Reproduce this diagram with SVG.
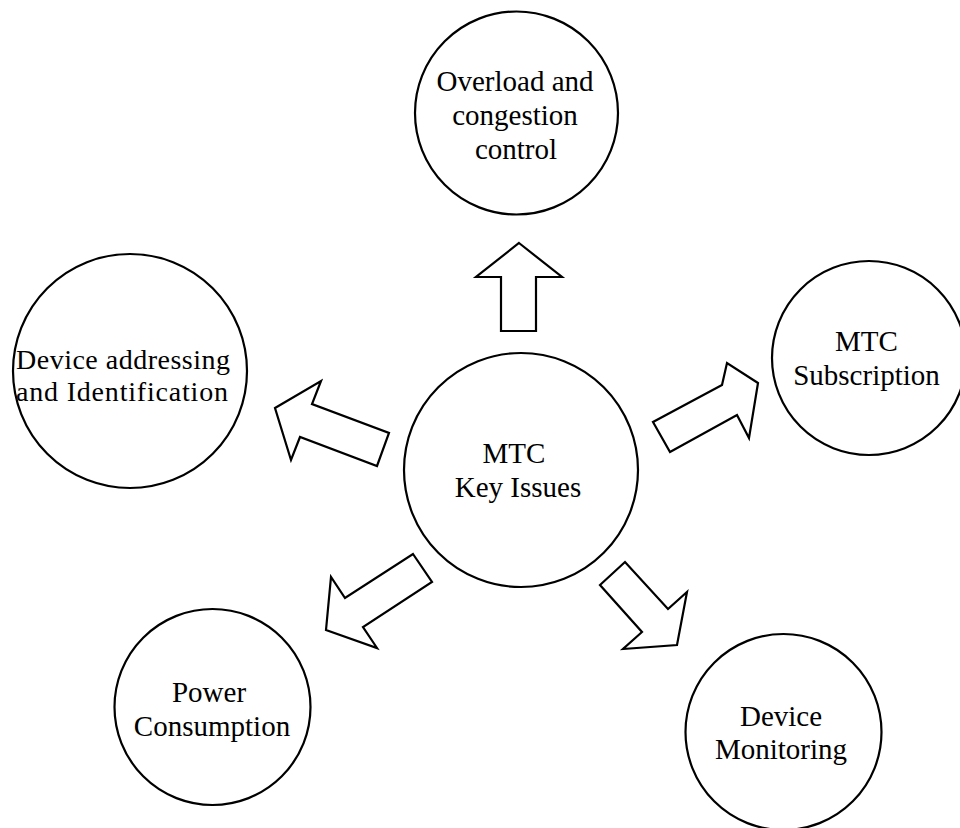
<svg xmlns="http://www.w3.org/2000/svg" width="960" height="828" viewBox="0 0 960 828">
<style>
.node{fill:#fff;stroke:#000;stroke-width:2.2}
.arrow{fill:#fff;stroke:#000;stroke-width:2.2;stroke-linejoin:miter}
text{font-family:"Liberation Serif","Times New Roman",serif;font-size:29px;fill:#000;text-anchor:middle}
.tight{font-size:28px}
</style>
<rect width="960" height="828" fill="#fff"/>
<g id="connectors">
<polygon class="arrow" points="519,243 562,277 536,277 536,331 501,331 501,277 476,277"/>
<polygon class="arrow" points="275,408 321,381 312,404 389,433 377,466 300,437 291,460"/>
<polygon class="arrow" points="758,383 727,363 722,385 653,422 670,452 737,415 749,438"/>
<polygon class="arrow" points="413,554 432,582 363,627 377,648 326,630 331,577 345,598"/>
<polygon class="arrow" points="625,562 600,585 642,632 623,649 677,645 687,592 668,609"/>
</g>
<g id="center">
<circle class="node" cx="521" cy="470" r="117"/>
<text x="514" y="463">MTC</text>
<text x="518" y="497">Key Issues</text>
</g>
<g id="overload">
<circle class="node" cx="516.5" cy="113" r="101.5"/>
<text x="515" y="91">Overload and</text>
<text x="515" y="125">congestion</text>
<text x="516" y="159">control</text>
</g>
<g id="addressing">
<circle class="node" cx="130" cy="371" r="117"/>
<text class="tight" x="123" y="369" textLength="214">Device addressing</text>
<text class="tight" x="122" y="401" textLength="212">and Identification</text>
</g>
<g id="subscription">
<circle class="node" cx="869" cy="358" r="97"/>
<text x="866.5" y="351">MTC</text>
<text x="866.5" y="385">Subscription</text>
</g>
<g id="power">
<circle class="node" cx="212.5" cy="707" r="98"/>
<text x="209" y="702">Power</text>
<text x="212" y="736">Consumption</text>
</g>
<g id="monitoring">
<circle class="node" cx="783.5" cy="732" r="98"/>
<text x="781" y="726">Device</text>
<text x="781" y="759">Monitoring</text>
</g>
</svg>
